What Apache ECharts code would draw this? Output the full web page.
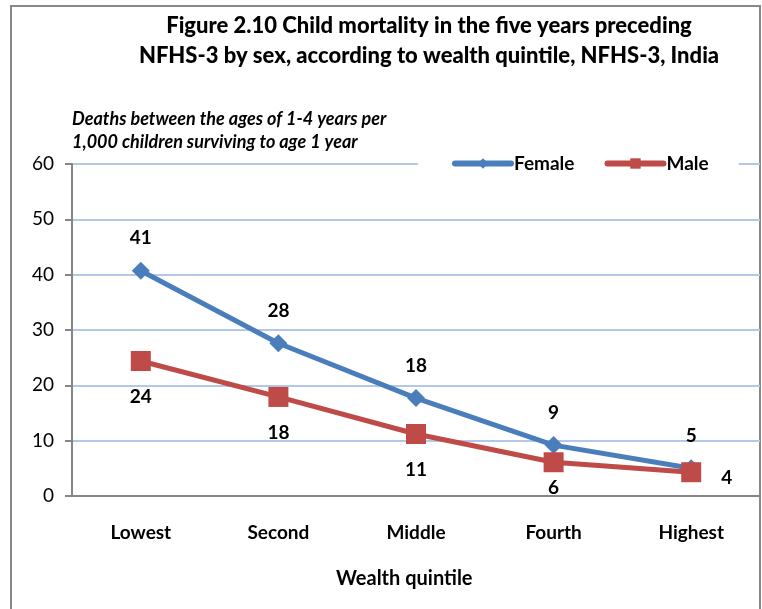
<!DOCTYPE html>
<html>
<head>
<meta charset="utf-8">
<script src="https://cdn.jsdelivr.net/npm/echarts@6/dist/echarts.min.js"></script>
<style>
  html, body { margin: 0; padding: 0; background: #fff; }
  #chart { width: 762px; height: 609px; }
</style>
</head>
<body>
<div id="chart"></div>
<script>
// 数据
const categories = ['Lowest', 'Second', 'Middle', 'Fourth', 'Highest'];
const femaleValues = [40.7, 27.6, 17.7, 9.2, 5.0];
const maleValues = [24.4, 17.9, 11.2, 6.1, 4.3];
const femaleLabels = ['41', '28', '18', '9', '5'];
const maleLabels = ['24', '18', '11', '6', '4'];
const yTicks = [0, 10, 20, 30, 40, 50, 60];

const fontFamily = 'Lato, "Open Sans", sans-serif';
const blue = '#4a7ebb';
const red = '#be4b48';

const chart = echarts.init(document.getElementById('chart'));

// 男性标签：第四个靠近横轴，最后一个放在右边
const maleData = maleValues.map((v, i) => {
    const item = { value: v };
    if (i === 3) {
        item.label = { distance: 6 };
    }
    if (i === maleValues.length - 1) {
        item.label = { position: 'right', distance: 20, offset: [0, 6] };
    }
    return item;
});

const option = {
    backgroundColor: '#fff',
    animation: false,
    title: {
        text: 'Figure 2.10 Child mortality in the five years preceding\nNFHS-3 by sex, according to wealth quintile, NFHS-3, India',
        left: 424,
        top: 6,
        textAlign: 'center',
        textStyle: {
            fontFamily: fontFamily,
            fontSize: 22,
            fontWeight: 900,
            color: '#000',
            lineHeight: 30
        }
    },
    graphic: [
        { // 外框
            type: 'rect',
            shape: { x: 11, y: 6, width: 749, height: 620 },
            style: { fill: null, stroke: '#888', lineWidth: 2 },
            silent: true
        },
        {
            type: 'text',
            left: 72,
            top: 108,
            style: {
                text: 'Deaths between the ages of 1-4 years per\n1,000 children surviving to age 1 year',
                font: 'italic bold 18px ' + fontFamily,
                lineHeight: 23,
                fill: '#000'
            }
        },
        {
            type: 'text',
            left: 336,
            top: 569,
            style: {
                text: 'Wealth quintile',
                font: 'bold 20px ' + fontFamily,
                fill: '#000'
            }
        }
    ],
    legend: {
        data: ['Female', 'Male'],
        left: 418,
        top: 151,
        backgroundColor: '#fff',
        padding: [3, 30, 3, 34],
        itemGap: 30,
        itemWidth: 56,
        itemHeight: 13,
        lineStyle: { width: 6, cap: 'round' },
        textStyle: {
            fontFamily: fontFamily,
            fontSize: 19,
            fontWeight: 'bold',
            color: '#000',
            padding: [0, 0, 0, -2]
        }
    },
    grid: {
        left: 72,
        right: 2,
        top: 164,
        bottom: 113,
        containLabel: false
    },
    xAxis: {
        type: 'category',
        data: categories,
        boundaryGap: true,
        axisLine: { lineStyle: { color: '#868686', width: 2 } },
        axisTick: { show: false },
        axisLabel: {
            margin: 27,
            fontFamily: fontFamily,
            fontSize: 19,
            fontWeight: 'bold',
            color: '#000'
        }
    },
    yAxis: {
        type: 'value',
        min: yTicks[0],
        max: yTicks[yTicks.length - 1],
        interval: 10,
        axisLine: { show: true, lineStyle: { color: '#868686', width: 2 } },
        axisTick: { show: true, length: 7, lineStyle: { color: '#868686', width: 2 } },
        axisLabel: {
            margin: 18,
            fontFamily: fontFamily,
            fontSize: 19,
            color: '#000'
        },
        splitLine: { lineStyle: { color: '#b3c7e6', width: 2 } }
    },
    series: [
        {
            name: 'Female',
            type: 'line',
            data: femaleValues,
            symbol: 'diamond',
            symbolSize: 18,
            z: 3,
            lineStyle: { color: blue, width: 5 },
            itemStyle: { color: blue },
            label: {
                show: true,
                position: 'top',
                distance: 14,
                formatter: p => femaleLabels[p.dataIndex],
                fontFamily: fontFamily,
                fontSize: 19,
                fontWeight: 'bold',
                color: '#000'
            }
        },
        {
            name: 'Male',
            type: 'line',
            data: maleData,
            symbol: 'rect',
            symbolSize: 20,
            z: 4,
            lineStyle: { color: red, width: 5 },
            itemStyle: { color: red },
            label: {
                show: true,
                position: 'bottom',
                distance: 16,
                formatter: p => maleLabels[p.dataIndex],
                fontFamily: fontFamily,
                fontSize: 19,
                fontWeight: 'bold',
                color: '#000'
            }
        }
    ]
};

chart.setOption(option);
</script>
</body>
</html>
